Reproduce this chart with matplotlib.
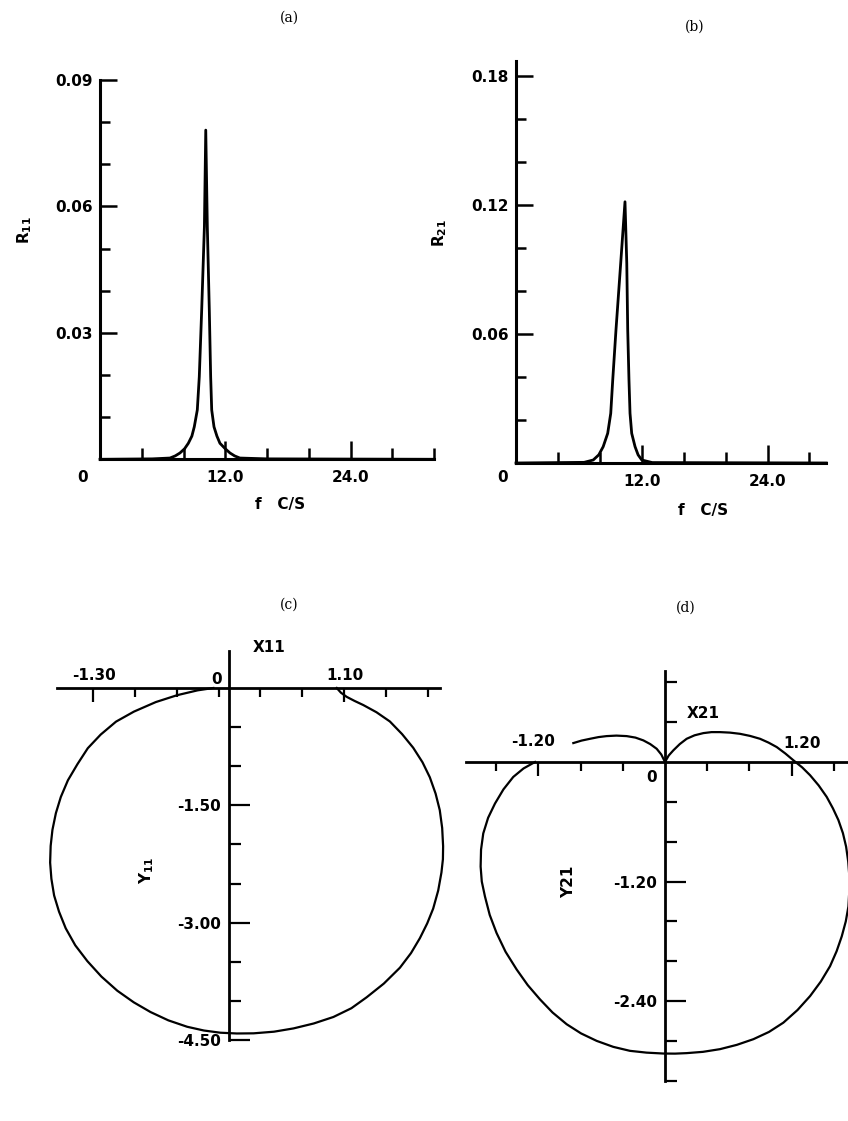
import numpy as np
import matplotlib
matplotlib.use('Agg')
import matplotlib.pyplot as plt

W, H = 848, 1121
DPI = 100

# ---- data ----
# (a) R11 against frequency
f11 = [0.0, 5.0, 6.7, 7.2, 7.66, 8.1, 8.46, 8.8, 9.03, 9.32, 9.51, 9.74, 10.0, 10.13,
       10.28, 10.47, 10.60, 10.70, 10.92, 11.2, 11.49, 12.0, 12.45, 12.9, 13.4, 16.0, 32.0]
r11 = [0.0, 0.0001, 0.0003, 0.0008, 0.0015, 0.0025, 0.0038, 0.0055, 0.0077, 0.0117, 0.0196,
       0.0354, 0.0552, 0.0781, 0.0552, 0.0354, 0.0196, 0.0117, 0.0077, 0.0055, 0.0038,
       0.0025, 0.0015, 0.0008, 0.0003, 0.0001, 0.0]

# (b) R21 against frequency
f21 = [0.0, 6.5, 7.37, 7.9, 8.32, 8.75, 9.04, 9.23, 9.54, 9.99, 10.40,
       10.57, 10.66, 10.78, 10.88, 11.04, 11.36, 11.65, 12.0, 13.0, 29.6]
r21 = [0.0, 0.0003, 0.0014, 0.0038, 0.0076, 0.0138, 0.0231, 0.0386, 0.0619, 0.0929, 0.1215,
       0.0929, 0.0619, 0.0386, 0.0231, 0.0138, 0.0076, 0.0038, 0.0014, 0.0002, 0.0]

# (c) Y11 locus
x11 = [-0.15, -0.30, -0.496, -0.70, -0.909, -1.08, -1.227, -1.35, -1.449, -1.54,
       -1.608, -1.655, -1.688, -1.705, -1.710, -1.698, -1.672, -1.625, -1.561, -1.47,
       -1.354, -1.22, -1.068, -0.91, -0.750, -0.58, -0.400, -0.24, -0.083, 0.075,
       0.235, 0.43, 0.617, 0.81, 0.998, 1.17, 1.316, 1.48, 1.634, 1.74,
       1.825, 1.895, 1.952, 2.0, 2.031, 2.045, 2.047, 2.038, 2.015, 1.975,
       1.920, 1.85, 1.761, 1.655, 1.538, 1.41, 1.284, 1.20, 1.125, 1.07, 1.030]
y11 = [0.0, -0.03, -0.092, -0.18, -0.302, -0.43, -0.596, -0.77, -0.974, -1.18,
       -1.394, -1.60, -1.814, -2.02, -2.233, -2.44, -2.653, -2.86, -3.073, -3.29,
       -3.493, -3.69, -3.871, -4.02, -4.144, -4.25, -4.332, -4.38, -4.408, -4.418,
       -4.416, -4.395, -4.353, -4.29, -4.207, -4.095, -3.955, -3.78, -3.577, -3.39,
       -3.199, -3.01, -2.821, -2.59, -2.359, -2.19, -2.024, -1.79, -1.562, -1.35,
       -1.142, -0.95, -0.764, -0.59, -0.428, -0.31, -0.218, -0.165, -0.113, -0.06, 0.0]

# (d) Y21 locus
x21 = [-0.868, -0.79, -0.710, -0.63, -0.553, -0.46, -0.363, -0.28, -0.205, -0.14,
       -0.079, -0.035, 0.0, 0.035, 0.079, 0.14, 0.205, 0.28, 0.363, 0.44,
       0.521, 0.615, 0.710, 0.805, 0.90, 0.98, 1.058, 1.14, 1.216, 1.30,
       1.374, 1.455, 1.531, 1.59, 1.642, 1.685, 1.715, 1.735, 1.746, 1.745,
       1.737, 1.712, 1.674, 1.625, 1.563, 1.475, 1.374, 1.255, 1.121, 0.985,
       0.837, 0.68, 0.521, 0.36, 0.205, 0.095, -0.016, -0.175, -0.332, -0.49,
       -0.647, -0.795, -0.931, -1.065, -1.184, -1.30, -1.405, -1.51, -1.595, -1.66,
       -1.705, -1.735, -1.746, -1.742, -1.721, -1.675, -1.610, -1.53, -1.437, -1.34, -1.231]
y21 = [0.19, 0.215, 0.233, 0.25, 0.26, 0.265, 0.26, 0.245, 0.217, 0.18,
       0.133, 0.075, 0.0, 0.065, 0.117, 0.18, 0.233, 0.268, 0.29, 0.30,
       0.30, 0.295, 0.283, 0.262, 0.233, 0.195, 0.15, 0.085, 0.017, -0.055,
       -0.133, -0.235, -0.35, -0.465, -0.583, -0.715, -0.85, -1.0, -1.15, -1.30,
       -1.45, -1.60, -1.75, -1.90, -2.05, -2.205, -2.35, -2.49, -2.617, -2.71,
       -2.783, -2.84, -2.883, -2.91, -2.923, -2.928, -2.927, -2.918, -2.90, -2.86,
       -2.80, -2.725, -2.633, -2.515, -2.383, -2.24, -2.083, -1.905, -1.717, -1.535,
       -1.35, -1.20, -1.05, -0.88, -0.717, -0.56, -0.417, -0.275, -0.15, -0.065, 0.0]

# ticks
xt_ab = [12.0, 24.0]
xl_ab = ['12.0', '24.0']
xm_a = [4, 8, 16, 20, 28, 32]
xm_b = [4, 8, 16, 20, 28]
yt_a = [0.03, 0.06, 0.09]
yl_a = ['0.03', '0.06', '0.09']
ym_a = [0.01, 0.02, 0.04, 0.05, 0.07, 0.08]
yt_b = [0.06, 0.12, 0.18]
yl_b = ['0.06', '0.12', '0.18']
ym_b = [0.02, 0.04, 0.08, 0.10, 0.14, 0.16]

xt_c = [-1.3, 1.1]
xl_c = ['-1.30', '1.10']
xm_c = [-0.9, -0.5, -0.1, 0.3, 0.7, 1.5, 1.9]
yt_c = [-1.5, -3.0, -4.5]
yl_c = ['-1.50', '-3.00', '-4.50']
ym_c = [-0.5, -1.0, -2.0, -2.5, -3.5, -4.0]

xt_d = [-1.2, 1.2]
xl_d = ['-1.20', '1.20']
xm_d = [-1.6, -0.8, -0.4, 0.4, 0.8, 1.6]
yt_d = [-1.2, -2.4]
yl_d = ['-1.20', '-2.40']
ym_d = [0.8, 0.4, -0.4, -0.8, -1.6, -2.0, -2.8, -3.2]

plt.rcParams['font.family'] = ['DejaVu Sans']
plt.rcParams['font.weight'] = 'bold'
plt.rcParams['mathtext.default'] = 'bf'
FS = 11
PT = 72.0 / DPI  # points per pixel

fig = plt.figure(figsize=(W / DPI, H / DPI), dpi=DPI)


def add_px_axes(x0, sx, xlim, y0, sy, ylim):
    # x0,y0: pixel position of data origin; sx,sy: pixels per data unit
    left = x0 + xlim[0] * sx
    right = x0 + xlim[1] * sx
    top = y0 - ylim[1] * sy
    bottom = y0 - ylim[0] * sy
    ax = fig.add_axes([left / W, 1 - bottom / H, (right - left) / W, (bottom - top) / H])
    ax.set_xlim(*xlim)
    ax.set_ylim(*ylim)
    ax.patch.set_alpha(0)
    return ax


def spectrum_panel(ax, f, r, xm, yt, yl, ym, zero_off):
    ax.plot(f, r, color='black', lw=2.0, clip_on=False, solid_joinstyle='round')
    for s in ['top', 'right']:
        ax.spines[s].set_visible(False)
    for s in ['left', 'bottom']:
        ax.spines[s].set_linewidth(2.2)
    ax.set_xticks(xt_ab)
    ax.set_xticklabels(xl_ab)
    ax.set_xticks(xm, minor=True)
    ax.set_yticks(yt)
    ax.set_yticklabels(yl)
    ax.set_yticks(ym, minor=True)
    ax.tick_params(axis='x', which='major', direction='in', length=13, width=1.8, pad=8, labelsize=FS)
    ax.tick_params(axis='x', which='minor', direction='in', length=8, width=1.8)
    ax.tick_params(axis='y', which='major', direction='in', length=12, width=1.8, pad=5, labelsize=FS)
    ax.tick_params(axis='y', which='minor', direction='in', length=7.5, width=1.8)
    ax.annotate('0', (0, 0), xytext=zero_off, textcoords='offset points',
                ha='center', va='center', fontsize=FS)


def locus_panel(ax, x, y, xbounds, ybounds, xt, xl, xm, yt, yl, ym, lab_off, zero_off):
    ax.plot(x, y, color='black', lw=1.6, clip_on=True, solid_joinstyle='round')
    for s in ['top', 'right']:
        ax.spines[s].set_visible(False)
    for s in ['left', 'bottom']:
        ax.spines[s].set_position(('data', 0))
        ax.spines[s].set_linewidth(2.0)
    ax.spines['bottom'].set_bounds(*xbounds)
    ax.spines['left'].set_bounds(*ybounds)
    ax.set_xticks(xt)
    ax.set_xticklabels([])
    ax.set_xticks(xm, minor=True)
    ax.set_yticks(yt)
    ax.set_yticklabels(yl)
    ax.set_yticks(ym, minor=True)
    ax.tick_params(axis='x', which='major', direction='out', length=10, width=1.6)
    ax.tick_params(axis='x', which='minor', direction='out', length=6.5, width=1.6)
    ax.tick_params(axis='y', which='major', direction='in', length=15, width=1.6, pad=6, labelsize=FS)
    ax.tick_params(axis='y', which='minor', direction='in', length=8.5, width=1.6)
    for v, s, off in zip(xt, xl, lab_off):
        ax.annotate(s, (v, 0), xytext=off, textcoords='offset points',
                    ha='center', va='center', fontsize=FS)
    ax.annotate('0', (0, 0), xytext=zero_off, textcoords='offset points',
                ha='center', va='center', fontsize=FS)


# (a)
ax_a = add_px_axes(100, 10.44, (0, 32), 459.3, 4215, (0, 0.09))
spectrum_panel(ax_a, f11, r11, xm_a, yt_a, yl_a, ym_a, (-17 * PT, -18 * PT))

# (b)
ax_b = add_px_axes(516, 10.48, (0, 29.6), 463, 2150, (0, 0.187))
spectrum_panel(ax_b, f21, r21, xm_b, yt_b, yl_b, ym_b, (-13 * PT, -14 * PT))

# (c)
ax_c = add_px_axes(229, 104.6, (-1.75, 2.1), 688, 78.2, (-4.6, 0.55))
locus_panel(ax_c, x11, y11, (-1.64, 2.02), (-4.5, 0.47), xt_c, xl_c, xm_c, yt_c, yl_c, ym_c,
            [(1 * PT, 12 * PT), (1 * PT, 12 * PT)], (-12 * PT, 9 * PT))

# (d)
ax_d = add_px_axes(665, 105.6, (-1.9, (W - 665) / 105.6), 762, 99.6, (-3.3, 1.0))
locus_panel(ax_d, x21, y21, (-1.88, 1.74), (-3.2, 0.91), xt_d, xl_d, xm_d, yt_d, yl_d, ym_d,
            [(-5 * PT, 20 * PT), (10 * PT, 18 * PT)], (-13 * PT, -15 * PT))


def ftext(x, y, s, **kw):
    fig.text(x / W, 1 - y / H, s, ha='center', va='center', **kw)


# panel letters
ftext(289, 18, '(a)', family='DejaVu Serif', weight='normal', fontsize=10)
ftext(695, 27, '(b)', family='DejaVu Serif', weight='normal', fontsize=10)
ftext(289, 605, '(c)', family='DejaVu Serif', weight='normal', fontsize=10)
ftext(686, 608, '(d)', family='DejaVu Serif', weight='normal', fontsize=10)

# axis names
ftext(25, 230, r'R$_{11}$', rotation=90, fontsize=FS)
ftext(440, 233, r'R$_{21}$', rotation=90, fontsize=FS)
ftext(280, 505, 'f   C/S', fontsize=FS)
ftext(703, 510, 'f   C/S', fontsize=FS)
ftext(269, 648, 'X11', fontsize=FS)
ftext(147, 870, r'Y$_{11}$', rotation=90, fontsize=FS)
ftext(703, 714, 'X21', fontsize=FS)
ftext(569, 882, 'Y21', rotation=90, fontsize=FS)

fig.savefig('out.png', dpi=DPI)
